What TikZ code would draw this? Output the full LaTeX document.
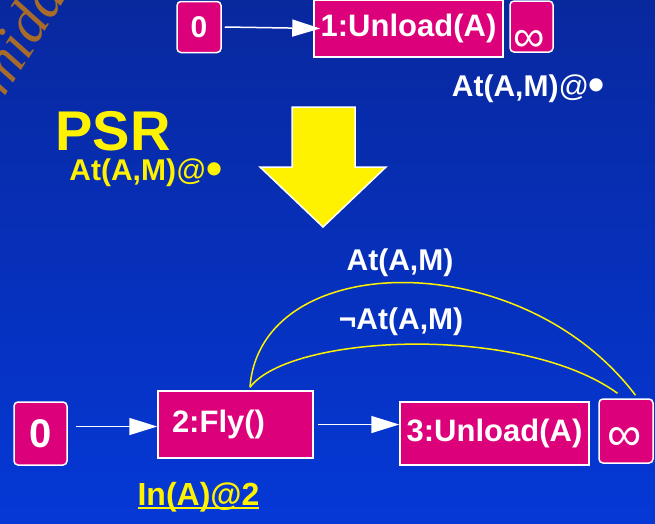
\documentclass[tikz,border=0pt]{standalone}
\usepackage{fontspec}
\setmainfont{Liberation Sans}
\newfontfamily\wmfont{Liberation Serif}
\usetikzlibrary{arrows.meta,calc}
\definecolor{bgtop}{RGB}{8,40,158}
\definecolor{bgbot}{RGB}{5,56,214}
\definecolor{mag}{RGB}{220,0,122}
\definecolor{wm}{RGB}{168,108,42}
\newcommand{\fs}[1]{\fontsize{#1}{#1}\selectfont\bfseries}
\newcommand{\atdot}{At(A,M){\mdseries @}\raisebox{-4pt}{\fontsize{46}{46}\selectfont•}}
\begin{document}
\begin{tikzpicture}[x=1pt,y=-1pt,
  pbox/.style={draw=white, fill=mag, line width=1.5pt, inner sep=0pt, text=white},
  rbox/.style={pbox, rounded corners=4pt},
  arr/.style={draw=white, line width=1.5pt, -{Triangle[length=28pt,width=17pt,fill=white]}},
  arc/.style={draw=yellow, line width=1.5pt},
  wtext/.style={text=white, inner sep=0pt},
  ytext/.style={text=yellow, inner sep=0pt}]
\useasboundingbox (0,0) rectangle (655,523);
\fill[top color=bgtop, bottom color=bgbot] (0,0) rectangle (655,523);
\begin{scope}
\clip (0,0) rectangle (655,523);
\node[text=wm, rotate=58, anchor=base west, inner sep=0pt] (wmark) at (4,98) {\wmfont\itshape\fontsize{60}{60}\selectfont mida};
\end{scope}
% top row
\node[rbox, minimum width=44pt, minimum height=51pt] (z1) at (199,27) {\fs{30}0};
\node[pbox, minimum width=189pt, minimum height=57pt] (u1) at (408.5,28.5) {\fs{31}1:Unload(A)};
\node[rbox, minimum width=43pt, minimum height=51pt] (i1) at (531.5,26.5) {};
\node[wtext] (i1s) at (529,41) {\fontsize{44}{44}\selectfont ∞};
\draw[arr] ([xshift=3pt]z1.east) -- ([xshift=7pt]u1.west);
\node[wtext] (topat) at (528.5,89) {\fs{30}\atdot};
% PSR
\node[ytext] (psr) at (113,131) {\fs{56}PSR};
\node[ytext] (psrat) at (146,173) {\fs{30}\atdot};
\draw[white, fill=yellow, line width=1.5pt] (292,107) -- (355,107) -- (355,167) -- (386,167) -- (323,227) -- (260,167) -- (292,167) -- cycle;
% bottom row
\node[rbox, minimum width=53pt, minimum height=63pt] (z2) at (40.5,433.5) {\fs{40}0};
\node[pbox, minimum width=155pt, minimum height=67pt, text width=127pt, inner xsep=14pt, align=left] (fly) at (235.5,424.5) {\fs{31}2:Fly()};
\node[pbox, minimum width=189pt, minimum height=63pt] (u3) at (494.5,433.5) {\fs{31}3:Unload(A)};
\node[rbox, minimum width=54pt, minimum height=64pt] (i2) at (626,431) {};
\node[wtext] (i2s) at (625,439) {\fontsize{48}{48}\selectfont ∞};
\draw[arr] ($(z2.east |- fly.west)+(8,2)$) -- ($(fly.west)+(0,2)$);
\draw[arr] ([xshift=4pt]fly.east) -- (u3.west |- fly.east);
% arcs
\draw[arc] ([xshift=14.5pt,yshift=3pt]fly.north) .. controls +(10,-138) and +(-115,-152) .. ([xshift=9.5pt,yshift=3pt]i2.north);
\draw[arc] ([xshift=14.5pt,yshift=3pt]fly.north) .. controls +(40,-53) and +(-97,-70) .. ([xshift=-8.5pt,yshift=5pt]i2.north);
\node[wtext] (lab1) at (400,263) {\fs{30}At(A,M)};
\node[wtext] (lab2) at (401,322) {\fs{30}¬At(A,M)};
\node[ytext] (ina) at (198.5,497) {\fs{32}\setbox0\hbox{In(A)@2}\rlap{\rule[-4pt]{\wd0}{2pt}}\box0};
\end{tikzpicture}
\end{document}
